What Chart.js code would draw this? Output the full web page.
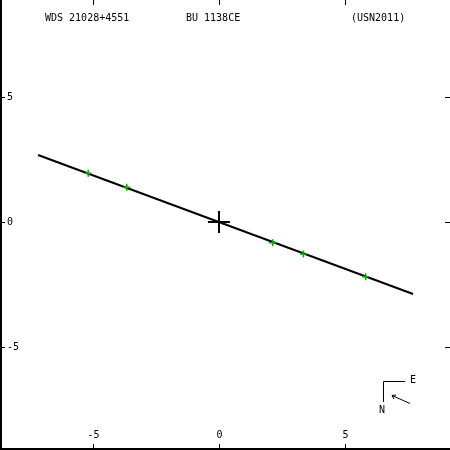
<!DOCTYPE html>
<html>
<head>
<meta charset="utf-8">
<script src="https://cdn.jsdelivr.net/npm/chart.js@4/dist/chart.umd.min.js"></script>
<style>
html,body{margin:0;padding:0;background:#fff;}
canvas{display:block;}
</style>
</head>
<body>
<canvas id="c" width="450" height="450"></canvas>
<script>
// ---- data ----
const titleLabels = ["WDS 21028+4551", "BU 1138CE", "(USN2011)"];
const orbitX = [-7.18, 7.70];
const orbitY = [2.68, -2.88];
const obsX = [-5.19, -3.66, 2.13, 3.35, 5.82];
const obsY = [1.95, 1.39, -0.83, -1.28, -2.19];
const primaryX = [0];
const primaryY = [0];
const xTicks = [-5, 0, 5];
const yTicks = [5, 0, -5];
const xRange = [-8.69, 9.167];
const yRange = [-9.12, 8.88];

const toPts = (xs, ys) => xs.map((x, i) => ({x: x, y: ys[i]}));
const FONT = '10px "DejaVu Sans Mono", "Liberation Mono", monospace';

const decor = {
  id: 'decor',
  afterDraw(chart) {
    const ctx = chart.ctx;
    const sx = chart.scales.x, sy = chart.scales.y;
    ctx.save();
    ctx.fillStyle = '#000';
    ctx.strokeStyle = '#000';
    // frame lines (left and bottom)
    ctx.fillRect(0, 0, 2, 450);
    ctx.fillRect(0, 448, 450, 2);
    ctx.font = FONT;
    ctx.lineWidth = 1;
    // x ticks
    xTicks.forEach(v => {
      const px = Math.round(sx.getPixelForValue(v)) + 0.5;
      ctx.beginPath();
      ctx.moveTo(px, 0); ctx.lineTo(px, 5);
      ctx.moveTo(px, 444); ctx.lineTo(px, 449);
      ctx.stroke();
      ctx.textAlign = 'center';
      ctx.textBaseline = 'middle';
      ctx.fillText(String(v), px, 435);
    });
    // y ticks
    yTicks.forEach(v => {
      const py = Math.round(sy.getPixelForValue(v)) + 0.5;
      ctx.beginPath();
      ctx.moveTo(0, py); ctx.lineTo(5, py);
      ctx.moveTo(445, py); ctx.lineTo(450, py);
      ctx.stroke();
      ctx.textAlign = 'left';
      ctx.textBaseline = 'middle';
      ctx.fillText(String(v), 7, py);
    });
    // title texts
    ctx.textAlign = 'left';
    ctx.textBaseline = 'middle';
    ctx.fillText(titleLabels[0], 45, 18);
    ctx.fillText(titleLabels[1], 186, 18);
    ctx.fillText(titleLabels[2], 351, 18);
    // compass
    ctx.beginPath();
    ctx.moveTo(383.5, 381.5); ctx.lineTo(405, 381.5);
    ctx.moveTo(383.5, 381.5); ctx.lineTo(383.5, 402);
    ctx.stroke();
    ctx.fillText('E', 410, 380);
    ctx.fillText('N', 379, 410);
    ctx.beginPath();
    ctx.moveTo(410, 403.5); ctx.lineTo(392, 395.5);
    ctx.moveTo(392, 395.5); ctx.lineTo(396, 395);
    ctx.moveTo(392, 395.5); ctx.lineTo(394, 399);
    ctx.stroke();
    ctx.restore();
  }
};

new Chart(document.getElementById('c'), {
  type: 'scatter',
  data: {
    datasets: [
      {
        data: toPts(obsX, obsY),
        pointStyle: 'cross',
        pointRadius: 3.5,
        borderColor: '#00aa00',
        backgroundColor: '#00aa00',
        borderWidth: 1.5,
        showLine: false,
        order: 1
      },
      {
        data: toPts(primaryX, primaryY),
        pointStyle: 'cross',
        pointRadius: 11,
        borderColor: '#000',
        borderWidth: 2,
        showLine: false,
        order: 0
      },
      {
        data: toPts(orbitX, orbitY),
        showLine: true,
        borderColor: '#000',
        borderWidth: 2,
        pointRadius: 0,
        order: 2
      }
    ]
  },
  options: {
    responsive: false,
    animation: false,
    events: [],
    layout: {padding: 0, autoPadding: false},
    plugins: {legend: {display: false}, tooltip: {enabled: false}},
    scales: {
      x: {type: 'linear', display: false, min: xRange[0], max: xRange[1]},
      y: {type: 'linear', display: false, min: yRange[0], max: yRange[1]}
    }
  },
  plugins: [decor]
});
</script>
</body>
</html>
